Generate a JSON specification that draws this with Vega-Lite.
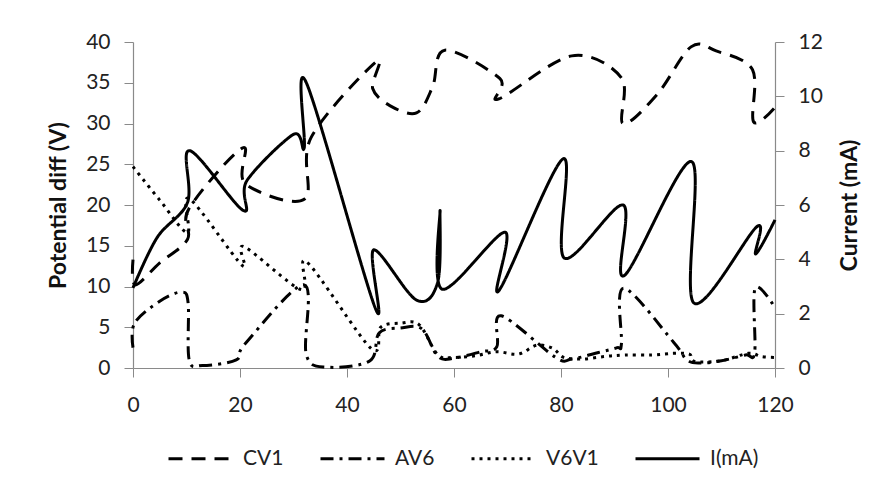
{
  "$schema": "https://vega.github.io/schema/vega-lite/v6.json",
  "width": 642,
  "height": 326,
  "autosize": {"type": "none"},
  "padding": {"left": 133, "top": 42, "right": 111, "bottom": 118},
  "background": "white",
  "config": {
    "view": {"stroke": null},
    "font": "Lato",
    "axis": {
      "grid": false,
      "domainColor": "#8a8a8a",
      "domainWidth": 1.2,
      "tickColor": "#8a8a8a",
      "tickSize": 9,
      "labelFont": "Lato",
      "labelFontSize": 21,
      "labelColor": "#222222",
      "labelFlush": false,
      "titleFont": "Lato",
      "titleFontSize": 23,
      "titleFontWeight": "bold",
      "titleColor": "#111111"
    },
    "legend": {
      "labelFont": "Lato",
      "labelFontSize": 21,
      "labelColor": "#222222"
    }
  },
  "data": {
    "values": [
      {"series": "CV1", "order": 0, "x": 0, "v": 13.3},
      {"series": "CV1", "order": 1, "x": 0.4, "v": 10.2},
      {"series": "CV1", "order": 2, "x": 5, "v": 12.9},
      {"series": "CV1", "order": 3, "x": 10.2, "v": 15.8},
      {"series": "CV1", "order": 4, "x": 10.5, "v": 19.6},
      {"series": "CV1", "order": 5, "x": 20.5, "v": 27.0},
      {"series": "CV1", "order": 6, "x": 21.0, "v": 22.6},
      {"series": "CV1", "order": 7, "x": 32.0, "v": 20.7},
      {"series": "CV1", "order": 8, "x": 33.3, "v": 28.3},
      {"series": "CV1", "order": 9, "x": 45.5, "v": 37.6},
      {"series": "CV1", "order": 10, "x": 44.8, "v": 34.3},
      {"series": "CV1", "order": 11, "x": 48, "v": 32.2},
      {"series": "CV1", "order": 12, "x": 53, "v": 31.3},
      {"series": "CV1", "order": 13, "x": 56, "v": 34.5},
      {"series": "CV1", "order": 14, "x": 58.3, "v": 39.0},
      {"series": "CV1", "order": 15, "x": 68.6, "v": 35.5},
      {"series": "CV1", "order": 16, "x": 68.3, "v": 33.0},
      {"series": "CV1", "order": 17, "x": 82, "v": 38.3},
      {"series": "CV1", "order": 18, "x": 91.3, "v": 35.6},
      {"series": "CV1", "order": 19, "x": 91.6, "v": 30.0},
      {"series": "CV1", "order": 20, "x": 98, "v": 33.6},
      {"series": "CV1", "order": 21, "x": 104.3, "v": 39.4},
      {"series": "CV1", "order": 22, "x": 109, "v": 38.9},
      {"series": "CV1", "order": 23, "x": 115.8, "v": 36.6},
      {"series": "CV1", "order": 24, "x": 116.0, "v": 30.2},
      {"series": "CV1", "order": 25, "x": 120, "v": 32.0},

      {"series": "AV6", "order": 0, "x": 0, "v": 2.5},
      {"series": "AV6", "order": 1, "x": 0.3, "v": 5.5},
      {"series": "AV6", "order": 2, "x": 5, "v": 8.2},
      {"series": "AV6", "order": 3, "x": 9, "v": 9.3},
      {"series": "AV6", "order": 4, "x": 10.3, "v": 8.0},
      {"series": "AV6", "order": 5, "x": 10.5, "v": 1.0},
      {"series": "AV6", "order": 6, "x": 13, "v": 0.3},
      {"series": "AV6", "order": 7, "x": 19.3, "v": 1.0},
      {"series": "AV6", "order": 8, "x": 21, "v": 3.0},
      {"series": "AV6", "order": 9, "x": 32, "v": 10.2},
      {"series": "AV6", "order": 10, "x": 32.4, "v": 1.6},
      {"series": "AV6", "order": 11, "x": 36.5, "v": 0.1},
      {"series": "AV6", "order": 12, "x": 44.3, "v": 0.9},
      {"series": "AV6", "order": 13, "x": 46, "v": 4.3},
      {"series": "AV6", "order": 14, "x": 50, "v": 4.9},
      {"series": "AV6", "order": 15, "x": 54, "v": 4.8},
      {"series": "AV6", "order": 16, "x": 57, "v": 1.4},
      {"series": "AV6", "order": 17, "x": 60, "v": 1.2},
      {"series": "AV6", "order": 18, "x": 65, "v": 2.0},
      {"series": "AV6", "order": 19, "x": 68, "v": 2.6},
      {"series": "AV6", "order": 20, "x": 68.8, "v": 6.4},
      {"series": "AV6", "order": 21, "x": 79, "v": 1.3},
      {"series": "AV6", "order": 22, "x": 82, "v": 1.1},
      {"series": "AV6", "order": 23, "x": 87, "v": 1.9},
      {"series": "AV6", "order": 24, "x": 90.5, "v": 2.5},
      {"series": "AV6", "order": 25, "x": 91.3, "v": 3.0},
      {"series": "AV6", "order": 26, "x": 91.7, "v": 9.8},
      {"series": "AV6", "order": 27, "x": 101, "v": 3.2},
      {"series": "AV6", "order": 28, "x": 103.5, "v": 1.0},
      {"series": "AV6", "order": 29, "x": 106, "v": 0.6},
      {"series": "AV6", "order": 30, "x": 110, "v": 0.9},
      {"series": "AV6", "order": 31, "x": 114.5, "v": 1.6},
      {"series": "AV6", "order": 32, "x": 116.2, "v": 1.9},
      {"series": "AV6", "order": 33, "x": 116.3, "v": 9.8},
      {"series": "AV6", "order": 34, "x": 120, "v": 7.4},

      {"series": "V6V1", "order": 0, "x": 0, "v": 24.7},
      {"series": "V6V1", "order": 1, "x": 5, "v": 20.6},
      {"series": "V6V1", "order": 2, "x": 10.2, "v": 16.6},
      {"series": "V6V1", "order": 3, "x": 10.5, "v": 20.8},
      {"series": "V6V1", "order": 4, "x": 20.4, "v": 12.6},
      {"series": "V6V1", "order": 5, "x": 20.7, "v": 14.9},
      {"series": "V6V1", "order": 6, "x": 31.5, "v": 9.6},
      {"series": "V6V1", "order": 7, "x": 32.5, "v": 13.0},
      {"series": "V6V1", "order": 8, "x": 44.5, "v": 2.4},
      {"series": "V6V1", "order": 9, "x": 46.3, "v": 5.0},
      {"series": "V6V1", "order": 10, "x": 50, "v": 5.5},
      {"series": "V6V1", "order": 11, "x": 53.5, "v": 5.3},
      {"series": "V6V1", "order": 12, "x": 57, "v": 1.6},
      {"series": "V6V1", "order": 13, "x": 60, "v": 1.3},
      {"series": "V6V1", "order": 14, "x": 64, "v": 1.5},
      {"series": "V6V1", "order": 15, "x": 68, "v": 2.0},
      {"series": "V6V1", "order": 16, "x": 72, "v": 1.7},
      {"series": "V6V1", "order": 17, "x": 75.5, "v": 2.8},
      {"series": "V6V1", "order": 18, "x": 78.5, "v": 2.4},
      {"series": "V6V1", "order": 19, "x": 80.5, "v": 1.3},
      {"series": "V6V1", "order": 20, "x": 84, "v": 1.1},
      {"series": "V6V1", "order": 21, "x": 88, "v": 1.4},
      {"series": "V6V1", "order": 22, "x": 92, "v": 1.6},
      {"series": "V6V1", "order": 23, "x": 97, "v": 1.6},
      {"series": "V6V1", "order": 24, "x": 101, "v": 1.8},
      {"series": "V6V1", "order": 25, "x": 104, "v": 1.7},
      {"series": "V6V1", "order": 26, "x": 105, "v": 0.8},
      {"series": "V6V1", "order": 27, "x": 110, "v": 0.9},
      {"series": "V6V1", "order": 28, "x": 115, "v": 1.8},
      {"series": "V6V1", "order": 29, "x": 117.5, "v": 1.4},
      {"series": "V6V1", "order": 30, "x": 120, "v": 1.3},

      {"series": "I(mA)", "order": 0, "x": 0, "v": 2.95},
      {"series": "I(mA)", "order": 1, "x": 4.5, "v": 4.8},
      {"series": "I(mA)", "order": 2, "x": 10.2, "v": 6.1},
      {"series": "I(mA)", "order": 3, "x": 10.6, "v": 8.0},
      {"series": "I(mA)", "order": 4, "x": 20.6, "v": 5.8},
      {"series": "I(mA)", "order": 5, "x": 21.3, "v": 6.9},
      {"series": "I(mA)", "order": 6, "x": 30, "v": 8.6},
      {"series": "I(mA)", "order": 7, "x": 32, "v": 8.1},
      {"series": "I(mA)", "order": 8, "x": 32.4, "v": 10.5},
      {"series": "I(mA)", "order": 9, "x": 45.3, "v": 2.2},
      {"series": "I(mA)", "order": 10, "x": 45.0, "v": 4.35},
      {"series": "I(mA)", "order": 11, "x": 53, "v": 2.5},
      {"series": "I(mA)", "order": 12, "x": 57.0, "v": 3.2},
      {"series": "I(mA)", "order": 13, "x": 57.4, "v": 5.8},
      {"series": "I(mA)", "order": 14, "x": 57.8, "v": 2.9},
      {"series": "I(mA)", "order": 15, "x": 69.5, "v": 5.0},
      {"series": "I(mA)", "order": 16, "x": 68.4, "v": 2.85},
      {"series": "I(mA)", "order": 17, "x": 80.4, "v": 7.7},
      {"series": "I(mA)", "order": 18, "x": 80.6, "v": 4.05},
      {"series": "I(mA)", "order": 19, "x": 91.6, "v": 6.0},
      {"series": "I(mA)", "order": 20, "x": 91.8, "v": 3.4},
      {"series": "I(mA)", "order": 21, "x": 104.4, "v": 7.6},
      {"series": "I(mA)", "order": 22, "x": 104.8, "v": 2.4},
      {"series": "I(mA)", "order": 23, "x": 116.6, "v": 5.2},
      {"series": "I(mA)", "order": 24, "x": 116.4, "v": 4.2},
      {"series": "I(mA)", "order": 25, "x": 120, "v": 5.45}
    ]
  },
  "layer": [
    {
      "transform": [{"filter": "datum.series !== 'I(mA)'"}],
      "mark": {"type": "line", "interpolate": "cardinal", "tension": 0, "strokeWidth": 3, "color": "black"},
      "encoding": {
        "x": {"field": "x", "type": "quantitative", "scale": {"domain": [0, 120], "nice": false},
              "axis": {"title": null, "values": [0, 20, 40, 60, 80, 100, 120], "labelPadding": 17}},
        "y": {"field": "v", "type": "quantitative", "scale": {"domain": [0, 40], "nice": false},
              "axis": {"title": "Potential diff (V)", "values": [0, 5, 10, 15, 20, 25, 30, 35, 40], "labelPadding": 14, "titlePadding": 15}},
        "order": {"field": "order", "type": "quantitative"},
        "strokeDash": {"field": "series", "type": "nominal",
          "scale": {"domain": ["CV1", "AV6", "V6V1", "I(mA)"], "range": [[14, 9], [13, 6, 3, 6], [3, 5], [1, 0]]},
          "legend": {"title": null, "orient": "none", "legendX": 34, "legendY": 383, "direction": "horizontal",
                     "symbolType": "stroke", "symbolSize": 4096, "symbolStrokeWidth": 3, "symbolStrokeColor": "black",
                     "labelOffset": 9, "columnPadding": 30}}
      }
    },
    {
      "transform": [{"filter": "datum.series === 'I(mA)'"}],
      "mark": {"type": "line", "interpolate": "cardinal", "tension": 0, "strokeWidth": 3, "color": "black"},
      "encoding": {
        "x": {"field": "x", "type": "quantitative", "scale": {"domain": [0, 120], "nice": false}},
        "y": {"field": "v", "type": "quantitative", "scale": {"domain": [0, 12], "nice": false},
              "axis": {"title": "Current (mA)", "orient": "right", "values": [0, 2, 4, 6, 8, 10, 12], "labelPadding": 14, "titlePadding": 16, "titleAngle": 270, "titleBaseline": "top"}},
        "order": {"field": "order", "type": "quantitative"},
        "strokeDash": {"field": "series", "type": "nominal",
          "scale": {"domain": ["CV1", "AV6", "V6V1", "I(mA)"], "range": [[14, 9], [13, 6, 3, 6], [3, 5], [1, 0]]}}
      }
    }
  ],
  "resolve": {"scale": {"y": "independent"}}
}
